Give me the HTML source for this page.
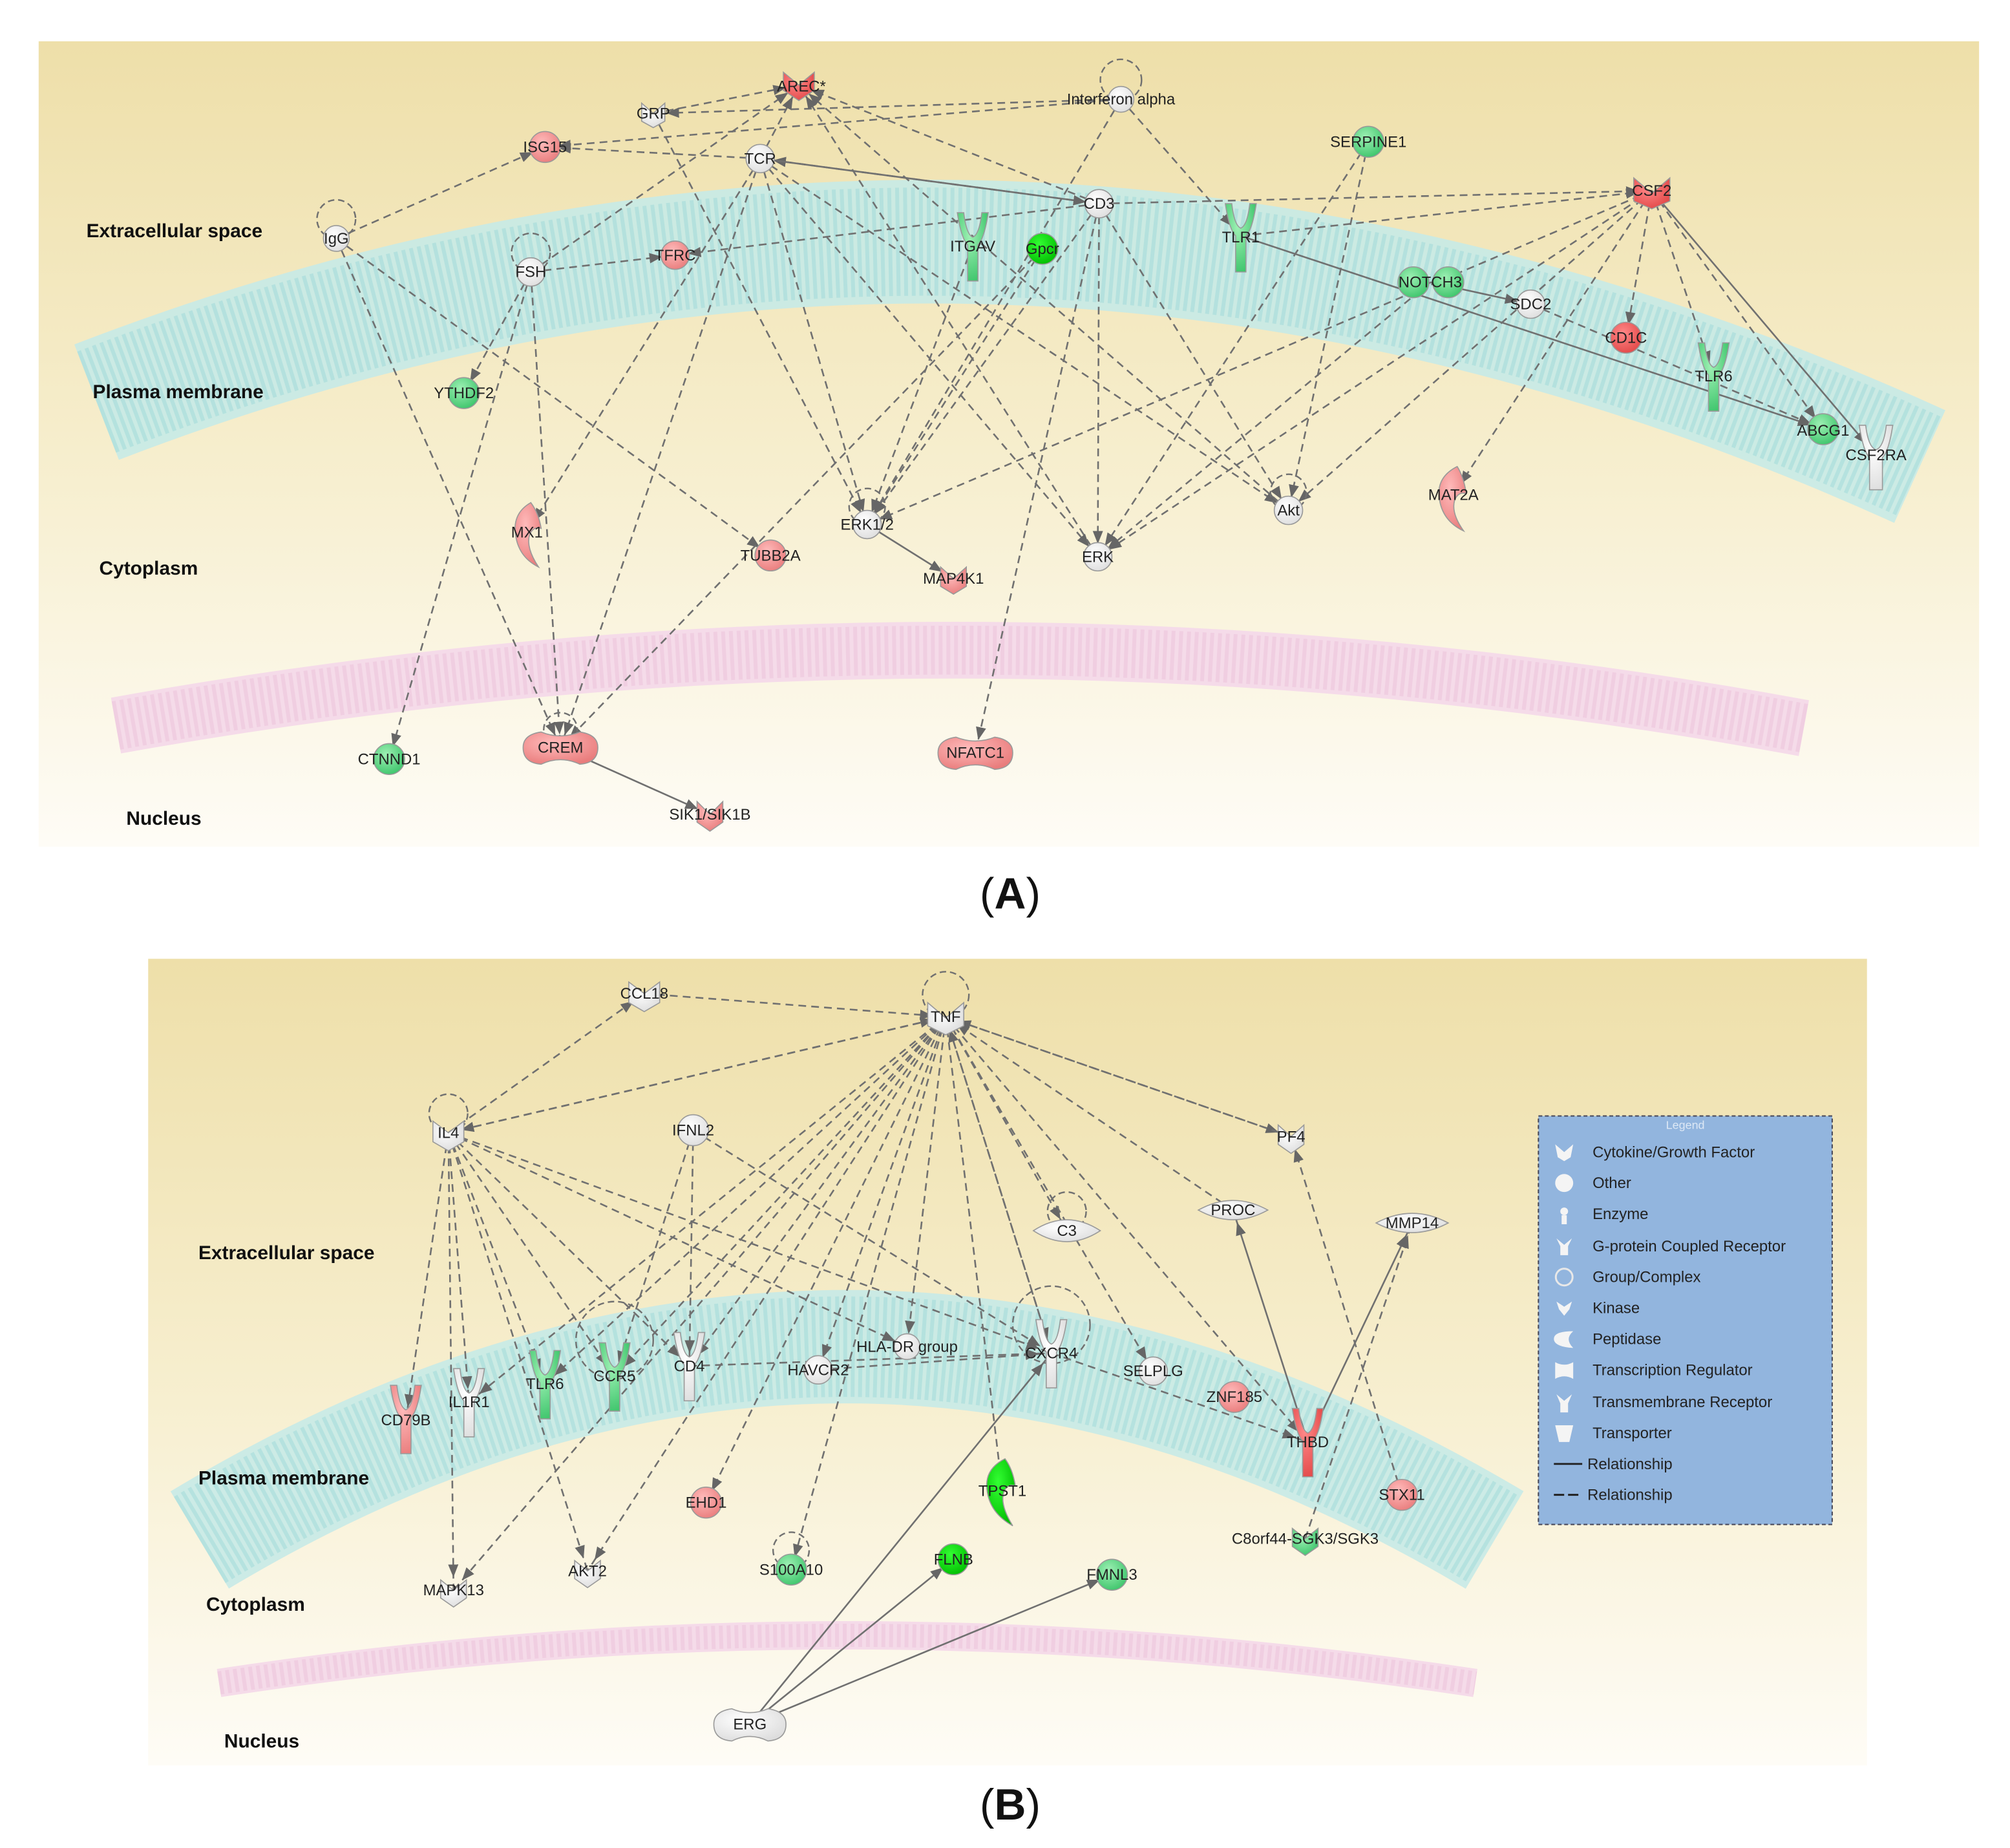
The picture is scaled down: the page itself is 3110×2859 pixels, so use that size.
<!DOCTYPE html>
<html><head><meta charset="utf-8"><style>
html,body{margin:0;padding:0;background:#fff}
svg{display:block}
text{font-family:"Liberation Sans",sans-serif}
</style></head><body>
<svg width="3110" height="2859" viewBox="0 0 1560 1434" xmlns="http://www.w3.org/2000/svg">
<defs>
<linearGradient id="bg" x1="0" y1="0" x2="0" y2="1">
<stop offset="0" stop-color="#eedfa9"/><stop offset="0.55" stop-color="#f7efd0"/><stop offset="1" stop-color="#fefcf6"/>
</linearGradient>
<marker id="ar" viewBox="0 0 10 8" refX="20" refY="4" markerWidth="10" markerHeight="8" markerUnits="userSpaceOnUse" orient="auto">
<path d="M0,0 L10,4 L0,8 z" fill="#666"/></marker>
<radialGradient id="gw" cx="0.4" cy="0.35" r="0.7"><stop offset="0" stop-color="#fff"/><stop offset="1" stop-color="#ddd"/></radialGradient>
<radialGradient id="gr" cx="0.4" cy="0.35" r="0.7"><stop offset="0" stop-color="#fbb"/><stop offset="1" stop-color="#e97c7c"/></radialGradient>
<radialGradient id="gR" cx="0.4" cy="0.35" r="0.7"><stop offset="0" stop-color="#f88"/><stop offset="1" stop-color="#e24848"/></radialGradient>
<radialGradient id="gg" cx="0.4" cy="0.35" r="0.7"><stop offset="0" stop-color="#9ef0b4"/><stop offset="1" stop-color="#3cc46a"/></radialGradient>
<radialGradient id="gG" cx="0.4" cy="0.35" r="0.7"><stop offset="0" stop-color="#3f3"/><stop offset="1" stop-color="#0b0"/></radialGradient>
</defs>

<!-- Panel A -->
<rect x="30" y="32" width="1506" height="625" fill="url(#bg)"/>
<path d="M75,312 Q780,40 1490,362" fill="none" stroke="#c6eae7" stroke-width="96" opacity="0.9"/>
<path d="M75,312 Q780,40 1490,362" fill="none" stroke="#9ad6d8" stroke-width="84" stroke-dasharray="3 3" opacity="0.45"/>
<path d="M90,563 Q748,445 1400,565" fill="none" stroke="#f5dbe9" stroke-width="44"/>
<path d="M90,563 Q748,445 1400,565" fill="none" stroke="#ebbfd8" stroke-width="38" stroke-dasharray="3 3" opacity="0.45"/>

<g font-weight="bold" font-size="15" fill="#111">
<text x="67" y="184">Extracellular space</text>
<text x="72" y="309">Plasma membrane</text>
<text x="77" y="446">Cytoplasm</text>
<text x="98" y="640">Nucleus</text>
</g>

<g stroke="#707070" stroke-width="1.3" fill="none" stroke-dasharray="6 4" marker-end="url(#ar)">
<path d="M261,185 L423,114"/>
<path d="M261,185 L435,580"/>
<path d="M261,185 L598,431"/>
<path d="M412,211 L620,66"/>
<path d="M412,211 L524,198"/>
<path d="M412,211 L360,305"/>
<path d="M412,211 L302,589"/>
<path d="M412,211 L435,580"/>
<path d="M507,88 L620,66"/>
<path d="M507,88 L673,407"/>
<path d="M870,77 L423,114"/>
<path d="M870,77 L507,88"/>
<path d="M870,77 L963,183"/>
<path d="M870,77 L673,407"/>
<path d="M590,123 L423,114"/>
<path d="M590,123 L409,413"/>
<path d="M590,123 L435,580"/>
<path d="M590,123 L673,407"/>
<path d="M590,123 L852,432"/>
<path d="M590,123 L1000,396"/>
<path d="M590,123 L620,66"/>
<path d="M853,158 L590,123"/>
<path d="M853,158 L1282,148"/>
<path d="M853,158 L620,66"/>
<path d="M853,158 L524,198"/>
<path d="M853,158 L852,432"/>
<path d="M853,158 L757,584"/>
<path d="M853,158 L673,407"/>
<path d="M853,158 L1000,396"/>
<path d="M755,190 L673,407"/>
<path d="M809,193 L673,407"/>
<path d="M809,193 L435,580"/>
<path d="M963,183 L1282,148"/>
<path d="M1282,148 L1262,262"/>
<path d="M1282,148 L1330,292"/>
<path d="M1282,148 L1415,333"/>
<path d="M1282,148 L1128,384"/>
<path d="M1282,148 L673,407"/>
<path d="M1282,148 L852,432"/>
<path d="M1282,148 L1000,396"/>
<path d="M1110,219 L852,432"/>
<path d="M1062,110 L1000,396"/>
<path d="M1062,110 L852,432"/>
<path d="M1000,396 L620,66"/>
<path d="M852,432 L620,66"/>
<path d="M1188,236 L1415,333"/>
</g>
<g stroke="#707070" stroke-width="1.3" fill="none" marker-end="url(#ar)">
<path d="M590,123 L853,158"/>
<path d="M963,183 L1415,333"/>
<path d="M1282,148 L1455,352"/>
<path d="M673,407 L740,449"/>
<path d="M435,580 L551,632"/>
<path d="M1110,219 L1188,236"/>
</g>
<g stroke="#707070" stroke-width="1.2" fill="none" stroke-dasharray="5 3">
<circle cx="870" cy="62" r="16"/><circle cx="261" cy="170" r="15"/><circle cx="412" cy="196" r="15"/>
<circle cx="673" cy="393" r="14"/><circle cx="1000" cy="382" r="14"/><circle cx="435" cy="566" r="13"/>
</g>

<g stroke="#999" stroke-width="0.8">
<path d="M608,56 L620,66 L632,56 L632,70 L620,78 L608,70 z" fill="url(#gR)"/>
<path d="M498,80 L507,88 L516,80 L516,94 L507,99 L498,94 z" fill="url(#gw)"/>
<circle cx="870" cy="77" r="10" fill="url(#gw)"/>
<circle cx="423" cy="114" r="12" fill="url(#gr)"/>
<circle cx="590" cy="123" r="11" fill="url(#gw)"/>
<circle cx="1062" cy="110" r="12" fill="url(#gg)"/>
<path d="M1268,138 L1282,150 L1296,138 L1296,156 L1282,162 L1268,156 z" fill="url(#gR)"/>
<circle cx="853" cy="158" r="11" fill="url(#gw)"/>
<circle cx="261" cy="185" r="10" fill="url(#gw)"/>
<circle cx="412" cy="211" r="11" fill="url(#gw)"/>
<circle cx="524" cy="198" r="11" fill="url(#gr)"/>
<path d="M743,165 Q746,185 751,190 L751,218 L759,218 L759,190 Q764,185 767,165 L762,165 Q760,182 755,184 Q750,182 748,165 z" fill="url(#gg)"/>
<circle cx="809" cy="193" r="12" fill="url(#gG)"/>
<path d="M951,158 Q954,178 959,183 L959,211 L967,211 L967,183 Q972,178 975,158 L970,158 Q968,175 963,177 Q958,175 956,158 z" fill="url(#gg)"/>
<circle cx="1097" cy="219" r="12" fill="url(#gg)"/><circle cx="1124" cy="219" r="12" fill="url(#gg)"/>
<circle cx="1188" cy="236" r="11" fill="url(#gw)"/>
<circle cx="1262" cy="262" r="12" fill="url(#gR)"/>
<path d="M1318,266 Q1321,286 1326,291 L1326,319 L1334,319 L1334,291 Q1339,286 1342,266 L1337,266 Q1335,283 1330,285 Q1325,283 1323,266 z" fill="url(#gg)"/>
<circle cx="1415" cy="333" r="12" fill="url(#gg)"/>
<path d="M1443,330 Q1446,350 1451,355 L1451,380 L1461,380 L1461,355 Q1466,350 1469,330 L1464,330 Q1462,347 1456,349 Q1450,347 1448,330 z" fill="url(#gw)"/>
<circle cx="360" cy="305" r="12" fill="url(#gg)"/>
<path d="M412,390 Q398,398 400,414 Q402,432 418,440 Q408,425 411,415 Q414,408 420,410 Q418,398 412,390 z" fill="url(#gr)"/>
<circle cx="598" cy="431" r="12" fill="url(#gr)"/>
<circle cx="673" cy="407" r="11" fill="url(#gw)"/>
<path d="M730,440 L740,449 L750,440 L750,455 L740,461 L730,455 z" fill="url(#gr)"/>
<circle cx="852" cy="432" r="11" fill="url(#gw)"/>
<circle cx="1000" cy="396" r="11" fill="url(#gw)"/>
<path d="M1131,362 Q1115,370 1117,386 Q1119,404 1136,412 Q1126,398 1129,388 Q1132,381 1138,383 Q1136,370 1131,362 z" fill="url(#gr)"/>
<circle cx="302" cy="589" r="12" fill="url(#gg)"/>
<path d="M420,568 Q435,574 450,568 Q464,570 464,580 Q464,592 450,593 Q435,586 420,593 Q406,592 406,580 Q406,570 420,568 z" fill="url(#gr)"/>
<path d="M742,572 Q757,578 772,572 Q786,574 786,584 Q786,596 772,597 Q757,590 742,597 Q728,596 728,584 Q728,574 742,572 z" fill="url(#gr)"/>
<path d="M541,622 L551,632 L561,622 L561,638 L551,645 L541,638 z" fill="url(#gr)"/>
</g>
<g font-size="12" fill="#222" text-anchor="middle">
<text x="622" y="71">AREC*</text><text x="507" y="92">GRP</text><text x="870" y="81">Interferon alpha</text>
<text x="423" y="118">ISG15</text><text x="590" y="127">TCR</text><text x="1062" y="114">SERPINE1</text>
<text x="1282" y="152">CSF2</text><text x="853" y="162">CD3</text><text x="261" y="189">IgG</text>
<text x="412" y="215">FSH</text><text x="524" y="202">TFRC</text><text x="755" y="195">ITGAV</text>
<text x="809" y="197">Gpcr</text><text x="963" y="188">TLR1</text><text x="1110" y="223">NOTCH3</text>
<text x="1188" y="240">SDC2</text><text x="1262" y="266">CD1C</text><text x="1330" y="296">TLR6</text>
<text x="1415" y="338">ABCG1</text><text x="1456" y="357">CSF2RA</text><text x="360" y="309">YTHDF2</text>
<text x="409" y="417">MX1</text><text x="598" y="435">TUBB2A</text><text x="673" y="411">ERK1/2</text>
<text x="740" y="453">MAP4K1</text><text x="852" y="436">ERK</text><text x="1000" y="400">Akt</text>
<text x="1128" y="388">MAT2A</text><text x="302" y="593">CTNND1</text><text x="435" y="584">CREM</text>
<text x="757" y="588">NFATC1</text><text x="551" y="636">SIK1/SIK1B</text>
</g>

<text x="784" y="705" font-family="Liberation Serif,serif" font-size="34" text-anchor="middle" fill="#111">(<tspan font-weight="bold">A</tspan>)</text>

<!-- Panel B -->
<rect x="115" y="744" width="1334" height="626" fill="url(#bg)"/>
<path d="M155,1195 Q655,895 1160,1195" fill="none" stroke="#c6eae7" stroke-width="88" opacity="0.9"/>
<path d="M155,1195 Q655,895 1160,1195" fill="none" stroke="#9ad6d8" stroke-width="78" stroke-dasharray="3 3" opacity="0.45"/>
<path d="M170,1306 Q655,1232 1145,1306" fill="none" stroke="#f5dbe9" stroke-width="22"/>
<path d="M170,1306 Q655,1232 1145,1306" fill="none" stroke="#ebbfd8" stroke-width="18" stroke-dasharray="3 3" opacity="0.45"/>

<g font-weight="bold" font-size="15" fill="#111">
<text x="154" y="977">Extracellular space</text>
<text x="154" y="1152">Plasma membrane</text>
<text x="160" y="1250">Cytoplasm</text>
<text x="174" y="1356">Nucleus</text>
</g>

<g stroke="#707070" stroke-width="1.3" fill="none" stroke-dasharray="6 4" marker-end="url(#ar)">
<path d="M348,879 L500,771"/><path d="M500,771 L734,789"/><path d="M348,879 L734,789"/>
<path d="M734,789 L1002,882"/><path d="M734,789 L828,955"/><path d="M734,789 L1015,1119"/>
<path d="M348,879 L315,1102"/><path d="M348,879 L364,1088"/><path d="M348,879 L423,1074"/>
<path d="M348,879 L352,1234"/><path d="M348,879 L456,1219"/><path d="M348,879 L535,1060"/>
<path d="M348,879 L704,1045"/><path d="M348,879 L816,1050"/><path d="M348,879 L477,1068"/>
<path d="M734,789 L348,879"/><path d="M734,789 L535,1060"/><path d="M734,789 L477,1068"/>
<path d="M734,789 L364,1088"/><path d="M734,789 L423,1074"/><path d="M734,789 L635,1063"/>
<path d="M734,789 L704,1045"/><path d="M734,789 L816,1050"/><path d="M734,789 L778,1157"/>
<path d="M734,789 L548,1166"/><path d="M734,789 L614,1218"/><path d="M734,789 L895,1064"/>
<path d="M734,789 L352,1234"/><path d="M734,789 L456,1219"/>
<path d="M538,877 L477,1068"/><path d="M538,877 L535,1060"/><path d="M538,877 L816,1050"/>
<path d="M816,1050 L734,789"/><path d="M957,939 L734,789"/><path d="M1002,882 L734,789"/>
<path d="M1013,1194 L1096,949"/><path d="M1088,1160 L1002,882"/>
<path d="M816,1050 L1015,1119"/><path d="M635,1063 L816,1050"/><path d="M535,1060 L816,1050"/>
</g>
<g stroke="#707070" stroke-width="1.3" fill="none" marker-end="url(#ar)">
<path d="M1015,1119 L957,939"/><path d="M1015,1119 L1096,949"/>
<path d="M582,1338 L816,1050"/><path d="M582,1338 L740,1210"/><path d="M582,1338 L863,1222"/>
</g>
<g stroke="#707070" stroke-width="1.2" fill="none" stroke-dasharray="5 3">
<circle cx="734" cy="772" r="18"/><circle cx="348" cy="864" r="15"/><circle cx="828" cy="940" r="15"/>
<circle cx="816" cy="1028" r="30"/><circle cx="614" cy="1203" r="14"/><circle cx="477" cy="1040" r="30"/>
</g>

<g stroke="#999" stroke-width="0.8">
<path d="M488,762 L500,771 L512,762 L512,778 L500,785 L488,778 z" fill="url(#gw)"/>
<path d="M720,778 L734,790 L748,778 L748,796 L734,803 L720,796 z" fill="url(#gw)"/>
<path d="M336,870 L348,879 L360,870 L360,886 L348,893 L336,886 z" fill="url(#gw)"/>
<circle cx="538" cy="877" r="12" fill="url(#gw)"/>
<path d="M992,873 L1002,882 L1012,873 L1012,888 L1002,895 L992,888 z" fill="url(#gw)"/>
<path d="M930,939 Q957,924 984,939 Q957,954 930,939 z" fill="url(#gw)"/>
<path d="M802,955 Q828,938 854,955 Q828,972 802,955 z" fill="url(#gw)"/>
<path d="M1068,949 Q1096,934 1124,949 Q1096,964 1068,949 z" fill="url(#gw)"/>
<path d="M303,1075 Q306,1095 311,1100 L311,1128 L319,1128 L319,1100 Q324,1095 327,1075 L322,1075 Q320,1092 315,1094 Q310,1092 308,1075 z" fill="url(#gr)"/>
<path d="M352,1062 Q355,1082 360,1087 L360,1115 L368,1115 L368,1087 Q373,1082 376,1062 L371,1062 Q369,1079 364,1081 Q359,1079 357,1062 z" fill="url(#gw)"/>
<path d="M411,1048 Q414,1068 419,1073 L419,1101 L427,1101 L427,1073 Q432,1068 435,1048 L430,1048 Q428,1065 423,1067 Q418,1065 416,1048 z" fill="url(#gg)"/>
<path d="M465,1042 Q468,1062 473,1067 L473,1095 L481,1095 L481,1067 Q486,1062 489,1042 L484,1042 Q482,1059 477,1061 Q472,1059 470,1042 z" fill="url(#gg)"/>
<path d="M523,1034 Q526,1054 531,1059 L531,1087 L539,1087 L539,1059 Q544,1054 547,1034 L542,1034 Q540,1051 535,1053 Q530,1051 528,1034 z" fill="url(#gw)"/>
<circle cx="635" cy="1063" r="11" fill="url(#gw)"/>
<circle cx="704" cy="1045" r="10" fill="url(#gw)"/>
<path d="M804,1024 Q807,1044 812,1049 L812,1077 L820,1077 L820,1049 Q825,1044 828,1024 L823,1024 Q821,1041 816,1043 Q811,1041 809,1024 z" fill="url(#gw)"/>
<circle cx="895" cy="1064" r="11" fill="url(#gw)"/>
<circle cx="958" cy="1084" r="12" fill="url(#gr)"/>
<path d="M1003,1093 Q1006,1113 1011,1118 L1011,1146 L1019,1146 L1019,1118 Q1024,1113 1027,1093 L1022,1093 Q1020,1110 1015,1112 Q1010,1110 1008,1093 z" fill="url(#gR)"/>
<circle cx="1088" cy="1160" r="12" fill="url(#gr)"/>
<path d="M1003,1186 L1013,1194 L1023,1186 L1023,1200 L1013,1207 L1003,1200 z" fill="url(#gg)"/>
<circle cx="548" cy="1166" r="12" fill="url(#gr)"/>
<path d="M780,1132 Q764,1140 766,1156 Q768,1174 786,1184 Q776,1168 779,1158 Q782,1151 788,1153 Q786,1140 780,1132 z" fill="url(#gG)"/>
<circle cx="614" cy="1218" r="12" fill="url(#gg)"/>
<circle cx="740" cy="1210" r="12" fill="url(#gG)"/>
<circle cx="863" cy="1222" r="12" fill="url(#gg)"/>
<path d="M342,1226 L352,1234 L362,1226 L362,1240 L352,1247 L342,1240 z" fill="url(#gw)"/>
<path d="M446,1211 L456,1219 L466,1211 L466,1225 L456,1232 L446,1225 z" fill="url(#gw)"/>
<path d="M568,1326 Q582,1332 596,1326 Q610,1328 610,1338 Q610,1350 596,1351 Q582,1344 568,1351 Q554,1350 554,1338 Q554,1328 568,1326 z" fill="url(#gw)"/>
</g>
<g font-size="12" fill="#222" text-anchor="middle">
<text x="500" y="775">CCL18</text><text x="734" y="793">TNF</text><text x="348" y="883">IL4</text>
<text x="538" y="881">IFNL2</text><text x="1002" y="886">PF4</text><text x="957" y="943">PROC</text>
<text x="828" y="959">C3</text><text x="1096" y="953">MMP14</text><text x="315" y="1106">CD79B</text>
<text x="364" y="1092">IL1R1</text><text x="423" y="1078">TLR6</text><text x="477" y="1072">CCR5</text>
<text x="535" y="1064">CD4</text><text x="635" y="1067">HAVCR2</text><text x="704" y="1049">HLA-DR group</text>
<text x="816" y="1054">CXCR4</text><text x="895" y="1068">SELPLG</text><text x="958" y="1088">ZNF185</text>
<text x="1015" y="1123">THBD</text><text x="1088" y="1164">STX11</text><text x="1013" y="1198">C8orf44-SGK3/SGK3</text>
<text x="548" y="1170">EHD1</text><text x="778" y="1161">TPST1</text><text x="614" y="1222">S100A10</text>
<text x="740" y="1214">FLNB</text><text x="863" y="1226">FMNL3</text><text x="352" y="1238">MAPK13</text>
<text x="456" y="1223">AKT2</text><text x="582" y="1342">ERG</text>
</g>

<rect x="1194" y="866" width="228" height="317" fill="#92b5de" stroke="#445" stroke-width="1" stroke-dasharray="3 2"/>
<text x="1308" y="876" font-size="9" fill="#dde8f5" text-anchor="middle">Legend</text>
<g fill="#f4f4f4">
<path d="M1207,888 L1214,894 L1221,888 L1219,898 L1214,901 L1209,898 z"/>
<circle cx="1214" cy="918" r="7"/>
<circle cx="1214" cy="940" r="3"/><path d="M1212,943 L1216,943 L1216,950 L1212,950 z"/>
<path d="M1208,961 L1214,966 L1220,961 L1217,967 L1217,974 L1211,974 L1211,967 z"/>
<circle cx="1214" cy="991" r="6.5" fill="none" stroke="#e8e8e8" stroke-width="1.5"/>
<path d="M1208,1010 L1214,1014 L1220,1010 L1218,1016 L1214,1021 L1210,1016 z"/>
<path d="M1221,1033 Q1206,1033 1206,1039 Q1206,1045 1221,1046 Q1214,1039 1221,1033 z"/>
<path d="M1207,1057 Q1214,1061 1221,1057 L1221,1070 Q1214,1066 1207,1070 z"/>
<path d="M1208,1082 L1214,1087 L1220,1082 L1217,1089 L1217,1096 L1211,1096 L1211,1089 z"/>
<path d="M1207,1106 L1221,1106 L1218,1119 L1210,1119 z"/>
</g>
<g font-size="12" fill="#222">
<text x="1236" y="898">Cytokine/Growth Factor</text><text x="1236" y="922">Other</text>
<text x="1236" y="946">Enzyme</text><text x="1236" y="971">G-protein Coupled Receptor</text>
<text x="1236" y="995">Group/Complex</text><text x="1236" y="1019">Kinase</text>
<text x="1236" y="1043">Peptidase</text><text x="1236" y="1067">Transcription Regulator</text>
<text x="1236" y="1092">Transmembrane Receptor</text><text x="1236" y="1116">Transporter</text>
<text x="1232" y="1140">Relationship</text><text x="1232" y="1164">Relationship</text>
</g>
<path d="M1206,1136 L1228,1136" stroke="#222" stroke-width="1.5"/>
<path d="M1206,1160 L1228,1160" stroke="#222" stroke-width="1.5" stroke-dasharray="8 3"/>

<text x="784" y="1412" font-family="Liberation Serif,serif" font-size="34" text-anchor="middle" fill="#111">(<tspan font-weight="bold">B</tspan>)</text>
</svg>
</body></html>
